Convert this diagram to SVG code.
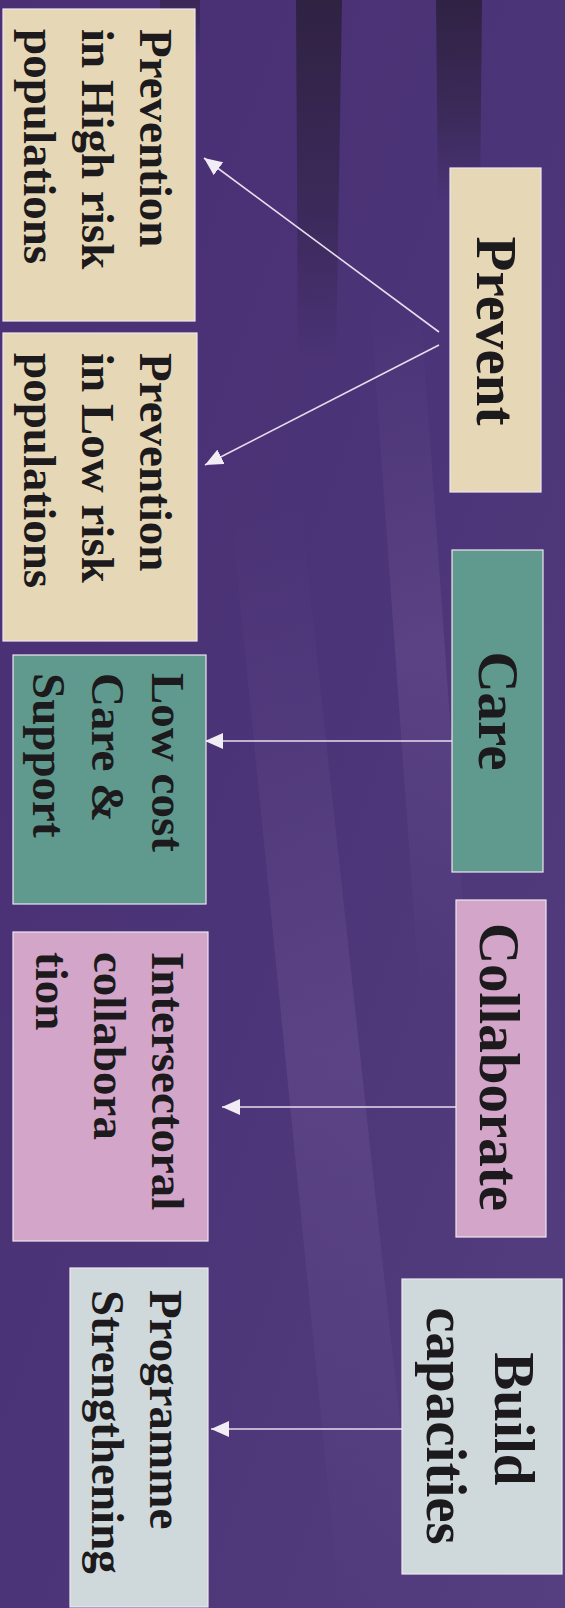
<svg xmlns="http://www.w3.org/2000/svg" width="565" height="1608" viewBox="0 0 565 1608">
  <defs>
    <linearGradient id="bg" x1="0" y1="0" x2="1" y2="1">
      <stop offset="0" stop-color="#4a2f74"/>
      <stop offset="0.5" stop-color="#4b3477"/>
      <stop offset="1" stop-color="#553f80"/>
    </linearGradient>
    <linearGradient id="dark" x1="0" y1="0" x2="0" y2="1">
      <stop offset="0" stop-color="#2e2140" stop-opacity="0.95"/>
      <stop offset="0.6" stop-color="#2e2140" stop-opacity="0.5"/>
      <stop offset="1" stop-color="#2e2140" stop-opacity="0"/>
    </linearGradient>
    <linearGradient id="light" x1="0" y1="0" x2="0" y2="1">
      <stop offset="0" stop-color="#8a6fb0" stop-opacity="0"/>
      <stop offset="0.5" stop-color="#8a6fb0" stop-opacity="0.22"/>
      <stop offset="1" stop-color="#8a6fb0" stop-opacity="0"/>
    </linearGradient>
    <marker id="ah" viewBox="0 0 18 16" refX="18" refY="8" markerWidth="18" markerHeight="16" markerUnits="userSpaceOnUse" orient="auto">
      <path d="M0,0 L18,8 L0,16 z" fill="#f2ecf4"/>
    </marker>
    <style>
      .box { stroke: #efe6ef; stroke-width: 1.2; }
      .beige { fill: #e6d8b6; }
      .teal { fill: #609a8f; }
      .pink { fill: #d3a6c9; }
      .grey { fill: #cfd9dc; }
      .t { font-family: "Liberation Serif", "Times New Roman", serif; font-weight: bold; fill: #1c1a1c; }
      .big { font-size: 57px; text-anchor: middle; }
      .small { font-size: 47px; }
      .conn { stroke: #e9dcee; stroke-width: 1.6; fill: none; marker-end: url(#ah); }
    </style>
  </defs>

  <!-- background -->
  <rect x="0" y="0" width="565" height="1608" fill="url(#bg)"/>
  <polygon points="296,0 342,0 336,360 298,360" fill="url(#dark)"/>
  <polygon points="436,0 482,0 480,200 438,200" fill="url(#dark)"/>
  <polygon points="160,0 200,0 200,60 160,60" fill="url(#dark)" opacity="0.6"/>
  <polygon points="230,500 300,500 420,1608 340,1608" fill="url(#light)"/>
  <polygon points="370,300 420,300 470,1000 420,1000" fill="url(#light)"/>

  <!-- connectors -->
  <g id="connectors">
    <line class="conn" x1="439" y1="332" x2="204" y2="158"/>
    <line class="conn" x1="439" y1="345" x2="205" y2="465"/>
    <line class="conn" x1="452" y1="741" x2="205" y2="741"/>
    <line class="conn" x1="456" y1="1107" x2="222" y2="1107"/>
    <line class="conn" x1="402" y1="1429" x2="211" y2="1429"/>
  </g>

  <g id="prevent">
    <rect class="box beige" x="450" y="168" width="91" height="324"/>
    <text class="t big" transform="rotate(90)" x="331" y="-477">Prevent</text>
  </g>

  <g id="prevention-high">
    <rect class="box beige" x="3" y="9" width="192" height="312"/>
    <text class="t small" transform="rotate(90)">
      <tspan x="29" y="-140">Prevention</tspan>
      <tspan x="29" y="-82">in High risk</tspan>
      <tspan x="29" y="-24">populations</tspan>
    </text>
  </g>

  <g id="prevention-low">
    <rect class="box beige" x="3" y="333" width="194" height="308"/>
    <text class="t small" transform="rotate(90)">
      <tspan x="353" y="-140">Prevention</tspan>
      <tspan x="353" y="-82">in Low risk</tspan>
      <tspan x="353" y="-24">populations</tspan>
    </text>
  </g>

  <g id="care">
    <rect class="box teal" x="452" y="550" width="91" height="322"/>
    <text class="t big" transform="rotate(90)" x="711" y="-479">Care</text>
  </g>

  <g id="low-cost">
    <rect class="box teal" x="13" y="655" width="193" height="249"/>
    <text class="t small" transform="rotate(90)">
      <tspan x="673" y="-152">Low cost</tspan>
      <tspan x="673" y="-92">Care &amp;</tspan>
      <tspan x="673" y="-33">Support</tspan>
    </text>
  </g>

  <g id="collaborate">
    <rect class="box pink" x="456" y="900" width="90" height="337"/>
    <text class="t big" transform="rotate(90)" x="1067" y="-480">Collaborate</text>
  </g>

  <g id="intersectoral">
    <rect class="box pink" x="13" y="932" width="195" height="309"/>
    <text class="t small" transform="rotate(90)">
      <tspan x="952" y="-152">Intersectoral</tspan>
      <tspan x="952" y="-94">collabora</tspan>
      <tspan x="952" y="-36">tion</tspan>
    </text>
  </g>

  <g id="build-capacities">
    <rect class="box grey" x="402" y="1279" width="160" height="295"/>
    <text class="t big" transform="rotate(90)">
      <tspan x="1426" y="-495">Build</tspan>
      <tspan x="1426" y="-427">capacities</tspan>
    </text>
  </g>

  <g id="programme">
    <rect class="box grey" x="70" y="1268" width="138" height="339"/>
    <text class="t small" transform="rotate(90)">
      <tspan x="1290" y="-150">Programme</tspan>
      <tspan x="1290" y="-92">Strengthening</tspan>
    </text>
  </g>
</svg>
